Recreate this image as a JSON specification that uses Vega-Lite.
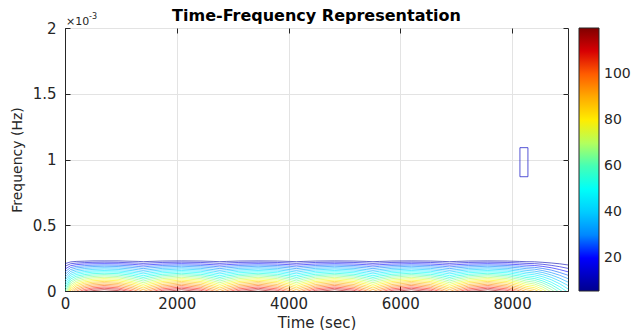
{
"$schema":"https://vega.github.io/schema/vega-lite/v6.json",
"width":503,"height":263,
"autosize":{"type":"none"},
"padding":{"left":65,"top":28,"right":64,"bottom":39},
"background":"white",
"config":{
"view":{"stroke":"#262626","strokeWidth":1},
"font":"DejaVu Sans",
"axis":{"labelFont":"DejaVu Sans","titleFont":"DejaVu Sans","labelColor":"#262626","titleColor":"#262626","domainColor":"#262626","tickColor":"#262626","gridColor":"#e3e3e3","gridOpacity":1,"labelFontSize":15,"titleFontSize":15,"titleFontWeight":"normal","tickSize":-5,"labelFlush":false,"labelOverlap":false}
},
"title":{"text":"Time-Frequency Representation","font":"DejaVu Sans","fontSize":16,"fontWeight":"bold","color":"#000000","offset":4,"dy":15,"anchor":"middle"},
"datasets":{
"contours":[
{"L":10,"t":0,"f":0.208},{"L":10,"t":100,"f":0.221},{"L":10,"t":200,"f":0.225},{"L":10,"t":350,"f":0.227},{"L":10,"t":500,"f":0.229},{"L":10,"t":700,"f":0.229},{"L":10,"t":950,"f":0.229},{"L":10,"t":1200,"f":0.226},{"L":10,"t":1320,"f":0.225},{"L":10,"t":1400,"f":0.223},
{"L":10,"t":1520,"f":0.225},{"L":10,"t":1740,"f":0.228},{"L":10,"t":2085,"f":0.229},{"L":10,"t":2430,"f":0.228},{"L":10,"t":2650,"f":0.225},{"L":10,"t":2770,"f":0.223},
{"L":10,"t":2890,"f":0.225},{"L":10,"t":3110,"f":0.228},{"L":10,"t":3455,"f":0.229},{"L":10,"t":3800,"f":0.228},{"L":10,"t":4020,"f":0.225},{"L":10,"t":4140,"f":0.223},
{"L":10,"t":4260,"f":0.225},{"L":10,"t":4480,"f":0.228},{"L":10,"t":4825,"f":0.229},{"L":10,"t":5170,"f":0.228},{"L":10,"t":5390,"f":0.225},{"L":10,"t":5510,"f":0.223},
{"L":10,"t":5630,"f":0.225},{"L":10,"t":5850,"f":0.228},{"L":10,"t":6195,"f":0.229},{"L":10,"t":6540,"f":0.228},{"L":10,"t":6760,"f":0.225},{"L":10,"t":6880,"f":0.223},
{"L":10,"t":7000,"f":0.225},{"L":10,"t":7220,"f":0.228},{"L":10,"t":7565,"f":0.229},{"L":10,"t":7910,"f":0.228},{"L":10,"t":8130,"f":0.225},{"L":10,"t":8250,"f":0.223},
{"L":10,"t":8400,"f":0.222},{"L":10,"t":8550,"f":0.218},{"L":10,"t":8700,"f":0.213},{"L":10,"t":8850,"f":0.207},{"L":10,"t":9000,"f":0.198},

{"L":15,"t":0,"f":0.188},{"L":15,"t":100,"f":0.207},{"L":15,"t":200,"f":0.212},{"L":15,"t":350,"f":0.216},{"L":15,"t":500,"f":0.218},{"L":15,"t":700,"f":0.219},{"L":15,"t":950,"f":0.218},{"L":15,"t":1200,"f":0.214},{"L":15,"t":1320,"f":0.212},{"L":15,"t":1400,"f":0.21},
{"L":15,"t":1520,"f":0.213},{"L":15,"t":1740,"f":0.217},{"L":15,"t":2085,"f":0.219},{"L":15,"t":2430,"f":0.217},{"L":15,"t":2650,"f":0.213},{"L":15,"t":2770,"f":0.21},
{"L":15,"t":2890,"f":0.213},{"L":15,"t":3110,"f":0.217},{"L":15,"t":3455,"f":0.219},{"L":15,"t":3800,"f":0.217},{"L":15,"t":4020,"f":0.213},{"L":15,"t":4140,"f":0.21},
{"L":15,"t":4260,"f":0.213},{"L":15,"t":4480,"f":0.217},{"L":15,"t":4825,"f":0.219},{"L":15,"t":5170,"f":0.217},{"L":15,"t":5390,"f":0.213},{"L":15,"t":5510,"f":0.21},
{"L":15,"t":5630,"f":0.213},{"L":15,"t":5850,"f":0.217},{"L":15,"t":6195,"f":0.219},{"L":15,"t":6540,"f":0.217},{"L":15,"t":6760,"f":0.213},{"L":15,"t":6880,"f":0.21},
{"L":15,"t":7000,"f":0.213},{"L":15,"t":7220,"f":0.217},{"L":15,"t":7565,"f":0.219},{"L":15,"t":7910,"f":0.217},{"L":15,"t":8130,"f":0.213},{"L":15,"t":8250,"f":0.21},
{"L":15,"t":8400,"f":0.208},{"L":15,"t":8550,"f":0.203},{"L":15,"t":8700,"f":0.195},{"L":15,"t":8850,"f":0.185},{"L":15,"t":9000,"f":0.172},

{"L":20,"t":0,"f":0.167},{"L":20,"t":100,"f":0.192},{"L":20,"t":200,"f":0.2},{"L":20,"t":350,"f":0.205},{"L":20,"t":500,"f":0.207},{"L":20,"t":700,"f":0.208},{"L":20,"t":950,"f":0.207},{"L":20,"t":1200,"f":0.203},{"L":20,"t":1320,"f":0.199},{"L":20,"t":1400,"f":0.197},
{"L":20,"t":1520,"f":0.2},{"L":20,"t":1740,"f":0.205},{"L":20,"t":2085,"f":0.208},{"L":20,"t":2430,"f":0.205},{"L":20,"t":2650,"f":0.2},{"L":20,"t":2770,"f":0.197},
{"L":20,"t":2890,"f":0.2},{"L":20,"t":3110,"f":0.205},{"L":20,"t":3455,"f":0.208},{"L":20,"t":3800,"f":0.205},{"L":20,"t":4020,"f":0.2},{"L":20,"t":4140,"f":0.197},
{"L":20,"t":4260,"f":0.2},{"L":20,"t":4480,"f":0.205},{"L":20,"t":4825,"f":0.208},{"L":20,"t":5170,"f":0.205},{"L":20,"t":5390,"f":0.2},{"L":20,"t":5510,"f":0.197},
{"L":20,"t":5630,"f":0.2},{"L":20,"t":5850,"f":0.205},{"L":20,"t":6195,"f":0.208},{"L":20,"t":6540,"f":0.205},{"L":20,"t":6760,"f":0.2},{"L":20,"t":6880,"f":0.197},
{"L":20,"t":7000,"f":0.2},{"L":20,"t":7220,"f":0.205},{"L":20,"t":7565,"f":0.208},{"L":20,"t":7910,"f":0.205},{"L":20,"t":8130,"f":0.2},{"L":20,"t":8250,"f":0.197},
{"L":20,"t":8400,"f":0.194},{"L":20,"t":8550,"f":0.187},{"L":20,"t":8700,"f":0.177},{"L":20,"t":8850,"f":0.163},{"L":20,"t":9000,"f":0.146},

{"L":25,"t":0,"f":0.146},{"L":25,"t":100,"f":0.178},{"L":25,"t":200,"f":0.187},{"L":25,"t":350,"f":0.193},{"L":25,"t":500,"f":0.196},{"L":25,"t":700,"f":0.198},{"L":25,"t":950,"f":0.196},{"L":25,"t":1200,"f":0.191},{"L":25,"t":1320,"f":0.186},{"L":25,"t":1400,"f":0.183},
{"L":25,"t":1520,"f":0.188},{"L":25,"t":1740,"f":0.194},{"L":25,"t":2085,"f":0.198},{"L":25,"t":2430,"f":0.194},{"L":25,"t":2650,"f":0.188},{"L":25,"t":2770,"f":0.183},
{"L":25,"t":2890,"f":0.188},{"L":25,"t":3110,"f":0.194},{"L":25,"t":3455,"f":0.198},{"L":25,"t":3800,"f":0.194},{"L":25,"t":4020,"f":0.188},{"L":25,"t":4140,"f":0.183},
{"L":25,"t":4260,"f":0.188},{"L":25,"t":4480,"f":0.194},{"L":25,"t":4825,"f":0.198},{"L":25,"t":5170,"f":0.194},{"L":25,"t":5390,"f":0.188},{"L":25,"t":5510,"f":0.183},
{"L":25,"t":5630,"f":0.188},{"L":25,"t":5850,"f":0.194},{"L":25,"t":6195,"f":0.198},{"L":25,"t":6540,"f":0.194},{"L":25,"t":6760,"f":0.188},{"L":25,"t":6880,"f":0.183},
{"L":25,"t":7000,"f":0.188},{"L":25,"t":7220,"f":0.194},{"L":25,"t":7565,"f":0.198},{"L":25,"t":7910,"f":0.194},{"L":25,"t":8130,"f":0.188},{"L":25,"t":8250,"f":0.183},
{"L":25,"t":8400,"f":0.18},{"L":25,"t":8550,"f":0.171},{"L":25,"t":8700,"f":0.159},{"L":25,"t":8850,"f":0.141},{"L":25,"t":9000,"f":0.12},

{"L":30,"t":0,"f":0.125},{"L":30,"t":100,"f":0.163},{"L":30,"t":200,"f":0.175},{"L":30,"t":350,"f":0.182},{"L":30,"t":500,"f":0.186},{"L":30,"t":700,"f":0.188},{"L":30,"t":950,"f":0.186},{"L":30,"t":1200,"f":0.179},{"L":30,"t":1320,"f":0.174},{"L":30,"t":1400,"f":0.17},
{"L":30,"t":1520,"f":0.176},{"L":30,"t":1740,"f":0.183},{"L":30,"t":2085,"f":0.188},{"L":30,"t":2430,"f":0.183},{"L":30,"t":2650,"f":0.176},{"L":30,"t":2770,"f":0.17},
{"L":30,"t":2890,"f":0.176},{"L":30,"t":3110,"f":0.183},{"L":30,"t":3455,"f":0.188},{"L":30,"t":3800,"f":0.183},{"L":30,"t":4020,"f":0.176},{"L":30,"t":4140,"f":0.17},
{"L":30,"t":4260,"f":0.176},{"L":30,"t":4480,"f":0.183},{"L":30,"t":4825,"f":0.188},{"L":30,"t":5170,"f":0.183},{"L":30,"t":5390,"f":0.176},{"L":30,"t":5510,"f":0.17},
{"L":30,"t":5630,"f":0.176},{"L":30,"t":5850,"f":0.183},{"L":30,"t":6195,"f":0.188},{"L":30,"t":6540,"f":0.183},{"L":30,"t":6760,"f":0.176},{"L":30,"t":6880,"f":0.17},
{"L":30,"t":7000,"f":0.176},{"L":30,"t":7220,"f":0.183},{"L":30,"t":7565,"f":0.188},{"L":30,"t":7910,"f":0.183},{"L":30,"t":8130,"f":0.176},{"L":30,"t":8250,"f":0.17},
{"L":30,"t":8400,"f":0.166},{"L":30,"t":8550,"f":0.155},{"L":30,"t":8700,"f":0.14},{"L":30,"t":8850,"f":0.12},{"L":30,"t":9000,"f":0.094},

{"L":35,"t":0,"f":0.104},{"L":35,"t":100,"f":0.149},{"L":35,"t":200,"f":0.162},{"L":35,"t":350,"f":0.171},{"L":35,"t":500,"f":0.175},{"L":35,"t":700,"f":0.177},{"L":35,"t":950,"f":0.175},{"L":35,"t":1200,"f":0.167},{"L":35,"t":1320,"f":0.161},{"L":35,"t":1400,"f":0.157},
{"L":35,"t":1520,"f":0.163},{"L":35,"t":1740,"f":0.172},{"L":35,"t":2085,"f":0.177},{"L":35,"t":2430,"f":0.172},{"L":35,"t":2650,"f":0.163},{"L":35,"t":2770,"f":0.157},
{"L":35,"t":2890,"f":0.163},{"L":35,"t":3110,"f":0.172},{"L":35,"t":3455,"f":0.177},{"L":35,"t":3800,"f":0.172},{"L":35,"t":4020,"f":0.163},{"L":35,"t":4140,"f":0.157},
{"L":35,"t":4260,"f":0.163},{"L":35,"t":4480,"f":0.172},{"L":35,"t":4825,"f":0.177},{"L":35,"t":5170,"f":0.172},{"L":35,"t":5390,"f":0.163},{"L":35,"t":5510,"f":0.157},
{"L":35,"t":5630,"f":0.163},{"L":35,"t":5850,"f":0.172},{"L":35,"t":6195,"f":0.177},{"L":35,"t":6540,"f":0.172},{"L":35,"t":6760,"f":0.163},{"L":35,"t":6880,"f":0.157},
{"L":35,"t":7000,"f":0.163},{"L":35,"t":7220,"f":0.172},{"L":35,"t":7565,"f":0.177},{"L":35,"t":7910,"f":0.172},{"L":35,"t":8130,"f":0.163},{"L":35,"t":8250,"f":0.157},
{"L":35,"t":8400,"f":0.151},{"L":35,"t":8550,"f":0.14},{"L":35,"t":8700,"f":0.122},{"L":35,"t":8850,"f":0.098},{"L":35,"t":9000,"f":0.068},

{"L":40,"t":0,"f":0.083},{"L":40,"t":100,"f":0.134},{"L":40,"t":200,"f":0.15},{"L":40,"t":350,"f":0.159},{"L":40,"t":500,"f":0.164},{"L":40,"t":700,"f":0.167},{"L":40,"t":950,"f":0.164},{"L":40,"t":1200,"f":0.155},{"L":40,"t":1320,"f":0.148},{"L":40,"t":1400,"f":0.143},
{"L":40,"t":1520,"f":0.151},{"L":40,"t":1740,"f":0.161},{"L":40,"t":2085,"f":0.167},{"L":40,"t":2430,"f":0.161},{"L":40,"t":2650,"f":0.151},{"L":40,"t":2770,"f":0.143},
{"L":40,"t":2890,"f":0.151},{"L":40,"t":3110,"f":0.161},{"L":40,"t":3455,"f":0.167},{"L":40,"t":3800,"f":0.161},{"L":40,"t":4020,"f":0.151},{"L":40,"t":4140,"f":0.143},
{"L":40,"t":4260,"f":0.151},{"L":40,"t":4480,"f":0.161},{"L":40,"t":4825,"f":0.167},{"L":40,"t":5170,"f":0.161},{"L":40,"t":5390,"f":0.151},{"L":40,"t":5510,"f":0.143},
{"L":40,"t":5630,"f":0.151},{"L":40,"t":5850,"f":0.161},{"L":40,"t":6195,"f":0.167},{"L":40,"t":6540,"f":0.161},{"L":40,"t":6760,"f":0.151},{"L":40,"t":6880,"f":0.143},
{"L":40,"t":7000,"f":0.151},{"L":40,"t":7220,"f":0.161},{"L":40,"t":7565,"f":0.167},{"L":40,"t":7910,"f":0.161},{"L":40,"t":8130,"f":0.151},{"L":40,"t":8250,"f":0.143},
{"L":40,"t":8400,"f":0.137},{"L":40,"t":8550,"f":0.124},{"L":40,"t":8700,"f":0.104},{"L":40,"t":8850,"f":0.076},{"L":40,"t":9000,"f":0.042},

{"L":45,"t":0,"f":0.063},{"L":45,"t":100,"f":0.12},{"L":45,"t":200,"f":0.137},{"L":45,"t":350,"f":0.148},{"L":45,"t":500,"f":0.153},{"L":45,"t":700,"f":0.156},{"L":45,"t":950,"f":0.153},{"L":45,"t":1200,"f":0.143},{"L":45,"t":1320,"f":0.136},{"L":45,"t":1400,"f":0.13},
{"L":45,"t":1520,"f":0.138},{"L":45,"t":1740,"f":0.15},{"L":45,"t":2085,"f":0.156},{"L":45,"t":2430,"f":0.15},{"L":45,"t":2650,"f":0.138},{"L":45,"t":2770,"f":0.13},
{"L":45,"t":2890,"f":0.138},{"L":45,"t":3110,"f":0.15},{"L":45,"t":3455,"f":0.156},{"L":45,"t":3800,"f":0.15},{"L":45,"t":4020,"f":0.138},{"L":45,"t":4140,"f":0.13},
{"L":45,"t":4260,"f":0.138},{"L":45,"t":4480,"f":0.15},{"L":45,"t":4825,"f":0.156},{"L":45,"t":5170,"f":0.15},{"L":45,"t":5390,"f":0.138},{"L":45,"t":5510,"f":0.13},
{"L":45,"t":5630,"f":0.138},{"L":45,"t":5850,"f":0.15},{"L":45,"t":6195,"f":0.156},{"L":45,"t":6540,"f":0.15},{"L":45,"t":6760,"f":0.138},{"L":45,"t":6880,"f":0.13},
{"L":45,"t":7000,"f":0.138},{"L":45,"t":7220,"f":0.15},{"L":45,"t":7565,"f":0.156},{"L":45,"t":7910,"f":0.15},{"L":45,"t":8130,"f":0.138},{"L":45,"t":8250,"f":0.13},
{"L":45,"t":8400,"f":0.123},{"L":45,"t":8550,"f":0.108},{"L":45,"t":8700,"f":0.086},{"L":45,"t":8850,"f":0.055},{"L":45,"t":9000,"f":0.016},

{"L":50,"t":0,"f":0.042},{"L":50,"t":100,"f":0.105},{"L":50,"t":200,"f":0.125},{"L":50,"t":350,"f":0.137},{"L":50,"t":500,"f":0.143},{"L":50,"t":700,"f":0.146},{"L":50,"t":950,"f":0.143},{"L":50,"t":1200,"f":0.132},{"L":50,"t":1320,"f":0.123},{"L":50,"t":1400,"f":0.116},
{"L":50,"t":1520,"f":0.126},{"L":50,"t":1740,"f":0.139},{"L":50,"t":2085,"f":0.146},{"L":50,"t":2430,"f":0.139},{"L":50,"t":2650,"f":0.126},{"L":50,"t":2770,"f":0.116},
{"L":50,"t":2890,"f":0.126},{"L":50,"t":3110,"f":0.139},{"L":50,"t":3455,"f":0.146},{"L":50,"t":3800,"f":0.139},{"L":50,"t":4020,"f":0.126},{"L":50,"t":4140,"f":0.116},
{"L":50,"t":4260,"f":0.126},{"L":50,"t":4480,"f":0.139},{"L":50,"t":4825,"f":0.146},{"L":50,"t":5170,"f":0.139},{"L":50,"t":5390,"f":0.126},{"L":50,"t":5510,"f":0.116},
{"L":50,"t":5630,"f":0.126},{"L":50,"t":5850,"f":0.139},{"L":50,"t":6195,"f":0.146},{"L":50,"t":6540,"f":0.139},{"L":50,"t":6760,"f":0.126},{"L":50,"t":6880,"f":0.116},
{"L":50,"t":7000,"f":0.126},{"L":50,"t":7220,"f":0.139},{"L":50,"t":7565,"f":0.146},{"L":50,"t":7910,"f":0.139},{"L":50,"t":8130,"f":0.126},{"L":50,"t":8250,"f":0.116},
{"L":50,"t":8400,"f":0.109},{"L":50,"t":8550,"f":0.092},{"L":50,"t":8700,"f":0.067},{"L":50,"t":8850,"f":0.033},{"L":50,"t":9000,"f":-0.01},

{"L":55,"t":0,"f":0.021},{"L":55,"t":100,"f":0.091},{"L":55,"t":200,"f":0.112},{"L":55,"t":350,"f":0.125},{"L":55,"t":500,"f":0.132},{"L":55,"t":700,"f":0.135},{"L":55,"t":950,"f":0.132},{"L":55,"t":1200,"f":0.12},{"L":55,"t":1320,"f":0.11},{"L":55,"t":1400,"f":0.103},
{"L":55,"t":1520,"f":0.114},{"L":55,"t":1740,"f":0.127},{"L":55,"t":2085,"f":0.135},{"L":55,"t":2430,"f":0.127},{"L":55,"t":2650,"f":0.114},{"L":55,"t":2770,"f":0.103},
{"L":55,"t":2890,"f":0.114},{"L":55,"t":3110,"f":0.127},{"L":55,"t":3455,"f":0.135},{"L":55,"t":3800,"f":0.127},{"L":55,"t":4020,"f":0.114},{"L":55,"t":4140,"f":0.103},
{"L":55,"t":4260,"f":0.114},{"L":55,"t":4480,"f":0.127},{"L":55,"t":4825,"f":0.135},{"L":55,"t":5170,"f":0.127},{"L":55,"t":5390,"f":0.114},{"L":55,"t":5510,"f":0.103},
{"L":55,"t":5630,"f":0.114},{"L":55,"t":5850,"f":0.127},{"L":55,"t":6195,"f":0.135},{"L":55,"t":6540,"f":0.127},{"L":55,"t":6760,"f":0.114},{"L":55,"t":6880,"f":0.103},
{"L":55,"t":7000,"f":0.114},{"L":55,"t":7220,"f":0.127},{"L":55,"t":7565,"f":0.135},{"L":55,"t":7910,"f":0.127},{"L":55,"t":8130,"f":0.114},{"L":55,"t":8250,"f":0.103},
{"L":55,"t":8400,"f":0.095},{"L":55,"t":8550,"f":0.076},{"L":55,"t":8700,"f":0.049},{"L":55,"t":8850,"f":0.011},{"L":55,"t":9000,"f":-0.036},

{"L":60,"t":0,"f":0.0},{"L":60,"t":100,"f":0.076},{"L":60,"t":200,"f":0.099},{"L":60,"t":350,"f":0.114},{"L":60,"t":500,"f":0.121},{"L":60,"t":700,"f":0.125},{"L":60,"t":950,"f":0.121},{"L":60,"t":1200,"f":0.108},{"L":60,"t":1320,"f":0.098},{"L":60,"t":1400,"f":0.09},
{"L":60,"t":1520,"f":0.101},{"L":60,"t":1740,"f":0.116},{"L":60,"t":2085,"f":0.125},{"L":60,"t":2430,"f":0.116},{"L":60,"t":2650,"f":0.101},{"L":60,"t":2770,"f":0.09},
{"L":60,"t":2890,"f":0.101},{"L":60,"t":3110,"f":0.116},{"L":60,"t":3455,"f":0.125},{"L":60,"t":3800,"f":0.116},{"L":60,"t":4020,"f":0.101},{"L":60,"t":4140,"f":0.09},
{"L":60,"t":4260,"f":0.101},{"L":60,"t":4480,"f":0.116},{"L":60,"t":4825,"f":0.125},{"L":60,"t":5170,"f":0.116},{"L":60,"t":5390,"f":0.101},{"L":60,"t":5510,"f":0.09},
{"L":60,"t":5630,"f":0.101},{"L":60,"t":5850,"f":0.116},{"L":60,"t":6195,"f":0.125},{"L":60,"t":6540,"f":0.116},{"L":60,"t":6760,"f":0.101},{"L":60,"t":6880,"f":0.09},
{"L":60,"t":7000,"f":0.101},{"L":60,"t":7220,"f":0.116},{"L":60,"t":7565,"f":0.125},{"L":60,"t":7910,"f":0.116},{"L":60,"t":8130,"f":0.101},{"L":60,"t":8250,"f":0.09},
{"L":60,"t":8400,"f":0.081},{"L":60,"t":8550,"f":0.061},{"L":60,"t":8700,"f":0.031},{"L":60,"t":8850,"f":-0.01},

{"L":65,"t":0,"f":-0.021},{"L":65,"t":100,"f":0.062},{"L":65,"t":200,"f":0.087},{"L":65,"t":350,"f":0.103},{"L":65,"t":500,"f":0.11},{"L":65,"t":700,"f":0.115},{"L":65,"t":950,"f":0.11},{"L":65,"t":1200,"f":0.096},{"L":65,"t":1320,"f":0.085},{"L":65,"t":1400,"f":0.076},
{"L":65,"t":1520,"f":0.089},{"L":65,"t":1740,"f":0.105},{"L":65,"t":2085,"f":0.115},{"L":65,"t":2430,"f":0.105},{"L":65,"t":2650,"f":0.089},{"L":65,"t":2770,"f":0.076},
{"L":65,"t":2890,"f":0.089},{"L":65,"t":3110,"f":0.105},{"L":65,"t":3455,"f":0.115},{"L":65,"t":3800,"f":0.105},{"L":65,"t":4020,"f":0.089},{"L":65,"t":4140,"f":0.076},
{"L":65,"t":4260,"f":0.089},{"L":65,"t":4480,"f":0.105},{"L":65,"t":4825,"f":0.115},{"L":65,"t":5170,"f":0.105},{"L":65,"t":5390,"f":0.089},{"L":65,"t":5510,"f":0.076},
{"L":65,"t":5630,"f":0.089},{"L":65,"t":5850,"f":0.105},{"L":65,"t":6195,"f":0.115},{"L":65,"t":6540,"f":0.105},{"L":65,"t":6760,"f":0.089},{"L":65,"t":6880,"f":0.076},
{"L":65,"t":7000,"f":0.089},{"L":65,"t":7220,"f":0.105},{"L":65,"t":7565,"f":0.115},{"L":65,"t":7910,"f":0.105},{"L":65,"t":8130,"f":0.089},{"L":65,"t":8250,"f":0.076},
{"L":65,"t":8400,"f":0.067},{"L":65,"t":8550,"f":0.045},{"L":65,"t":8700,"f":0.012},{"L":65,"t":8850,"f":-0.032},

{"L":70,"t":0,"f":-0.042},{"L":70,"t":100,"f":0.047},{"L":70,"t":200,"f":0.074},{"L":70,"t":350,"f":0.091},{"L":70,"t":500,"f":0.1},{"L":70,"t":700,"f":0.104},{"L":70,"t":950,"f":0.1},{"L":70,"t":1200,"f":0.084},{"L":70,"t":1320,"f":0.072},{"L":70,"t":1400,"f":0.063},
{"L":70,"t":1520,"f":0.076},{"L":70,"t":1740,"f":0.094},{"L":70,"t":2085,"f":0.104},{"L":70,"t":2430,"f":0.094},{"L":70,"t":2650,"f":0.076},{"L":70,"t":2770,"f":0.063},
{"L":70,"t":2890,"f":0.076},{"L":70,"t":3110,"f":0.094},{"L":70,"t":3455,"f":0.104},{"L":70,"t":3800,"f":0.094},{"L":70,"t":4020,"f":0.076},{"L":70,"t":4140,"f":0.063},
{"L":70,"t":4260,"f":0.076},{"L":70,"t":4480,"f":0.094},{"L":70,"t":4825,"f":0.104},{"L":70,"t":5170,"f":0.094},{"L":70,"t":5390,"f":0.076},{"L":70,"t":5510,"f":0.063},
{"L":70,"t":5630,"f":0.076},{"L":70,"t":5850,"f":0.094},{"L":70,"t":6195,"f":0.104},{"L":70,"t":6540,"f":0.094},{"L":70,"t":6760,"f":0.076},{"L":70,"t":6880,"f":0.063},
{"L":70,"t":7000,"f":0.076},{"L":70,"t":7220,"f":0.094},{"L":70,"t":7565,"f":0.104},{"L":70,"t":7910,"f":0.094},{"L":70,"t":8130,"f":0.076},{"L":70,"t":8250,"f":0.063},
{"L":70,"t":8400,"f":0.053},{"L":70,"t":8550,"f":0.029},{"L":70,"t":8700,"f":-0.006},

{"L":75,"t":0,"f":-0.063},{"L":75,"t":100,"f":0.033},{"L":75,"t":200,"f":0.062},{"L":75,"t":350,"f":0.08},{"L":75,"t":500,"f":0.089},{"L":75,"t":700,"f":0.094},{"L":75,"t":950,"f":0.089},{"L":75,"t":1200,"f":0.072},{"L":75,"t":1320,"f":0.059},{"L":75,"t":1400,"f":0.05},
{"L":75,"t":1520,"f":0.064},{"L":75,"t":1740,"f":0.083},{"L":75,"t":2085,"f":0.094},{"L":75,"t":2430,"f":0.083},{"L":75,"t":2650,"f":0.064},{"L":75,"t":2770,"f":0.05},
{"L":75,"t":2890,"f":0.064},{"L":75,"t":3110,"f":0.083},{"L":75,"t":3455,"f":0.094},{"L":75,"t":3800,"f":0.083},{"L":75,"t":4020,"f":0.064},{"L":75,"t":4140,"f":0.05},
{"L":75,"t":4260,"f":0.064},{"L":75,"t":4480,"f":0.083},{"L":75,"t":4825,"f":0.094},{"L":75,"t":5170,"f":0.083},{"L":75,"t":5390,"f":0.064},{"L":75,"t":5510,"f":0.05},
{"L":75,"t":5630,"f":0.064},{"L":75,"t":5850,"f":0.083},{"L":75,"t":6195,"f":0.094},{"L":75,"t":6540,"f":0.083},{"L":75,"t":6760,"f":0.064},{"L":75,"t":6880,"f":0.05},
{"L":75,"t":7000,"f":0.064},{"L":75,"t":7220,"f":0.083},{"L":75,"t":7565,"f":0.094},{"L":75,"t":7910,"f":0.083},{"L":75,"t":8130,"f":0.064},{"L":75,"t":8250,"f":0.05},
{"L":75,"t":8400,"f":0.039},{"L":75,"t":8550,"f":0.013},{"L":75,"t":8700,"f":-0.024},

{"L":80,"t":0,"f":-0.083},{"L":80,"t":100,"f":0.019},{"L":80,"t":200,"f":0.049},{"L":80,"t":350,"f":0.069},{"L":80,"t":500,"f":0.078},{"L":80,"t":700,"f":0.083},{"L":80,"t":950,"f":0.078},{"L":80,"t":1200,"f":0.061},{"L":80,"t":1320,"f":0.047},{"L":80,"t":1400,"f":0.036},
{"L":80,"t":1520,"f":0.052},{"L":80,"t":1740,"f":0.072},{"L":80,"t":2085,"f":0.083},{"L":80,"t":2430,"f":0.072},{"L":80,"t":2650,"f":0.052},{"L":80,"t":2770,"f":0.036},
{"L":80,"t":2890,"f":0.052},{"L":80,"t":3110,"f":0.072},{"L":80,"t":3455,"f":0.083},{"L":80,"t":3800,"f":0.072},{"L":80,"t":4020,"f":0.052},{"L":80,"t":4140,"f":0.036},
{"L":80,"t":4260,"f":0.052},{"L":80,"t":4480,"f":0.072},{"L":80,"t":4825,"f":0.083},{"L":80,"t":5170,"f":0.072},{"L":80,"t":5390,"f":0.052},{"L":80,"t":5510,"f":0.036},
{"L":80,"t":5630,"f":0.052},{"L":80,"t":5850,"f":0.072},{"L":80,"t":6195,"f":0.083},{"L":80,"t":6540,"f":0.072},{"L":80,"t":6760,"f":0.052},{"L":80,"t":6880,"f":0.036},
{"L":80,"t":7000,"f":0.052},{"L":80,"t":7220,"f":0.072},{"L":80,"t":7565,"f":0.083},{"L":80,"t":7910,"f":0.072},{"L":80,"t":8130,"f":0.052},{"L":80,"t":8250,"f":0.036},
{"L":80,"t":8400,"f":0.025},{"L":80,"t":8550,"f":-0.003},

{"L":85,"t":0,"f":-0.104},{"L":85,"t":100,"f":0.004},{"L":85,"t":200,"f":0.037},{"L":85,"t":350,"f":0.058},{"L":85,"t":500,"f":0.067},{"L":85,"t":700,"f":0.073},{"L":85,"t":950,"f":0.067},{"L":85,"t":1200,"f":0.049},{"L":85,"t":1320,"f":0.034},{"L":85,"t":1400,"f":0.023},
{"L":85,"t":1520,"f":0.039},{"L":85,"t":1740,"f":0.061},{"L":85,"t":2085,"f":0.073},{"L":85,"t":2430,"f":0.061},{"L":85,"t":2650,"f":0.039},{"L":85,"t":2770,"f":0.023},
{"L":85,"t":2890,"f":0.039},{"L":85,"t":3110,"f":0.061},{"L":85,"t":3455,"f":0.073},{"L":85,"t":3800,"f":0.061},{"L":85,"t":4020,"f":0.039},{"L":85,"t":4140,"f":0.023},
{"L":85,"t":4260,"f":0.039},{"L":85,"t":4480,"f":0.061},{"L":85,"t":4825,"f":0.073},{"L":85,"t":5170,"f":0.061},{"L":85,"t":5390,"f":0.039},{"L":85,"t":5510,"f":0.023},
{"L":85,"t":5630,"f":0.039},{"L":85,"t":5850,"f":0.061},{"L":85,"t":6195,"f":0.073},{"L":85,"t":6540,"f":0.061},{"L":85,"t":6760,"f":0.039},{"L":85,"t":6880,"f":0.023},
{"L":85,"t":7000,"f":0.039},{"L":85,"t":7220,"f":0.061},{"L":85,"t":7565,"f":0.073},{"L":85,"t":7910,"f":0.061},{"L":85,"t":8130,"f":0.039},{"L":85,"t":8250,"f":0.023},
{"L":85,"t":8400,"f":0.011},{"L":85,"t":8550,"f":-0.018},

{"L":90,"t":100,"f":-0.01},{"L":90,"t":200,"f":0.024},{"L":90,"t":350,"f":0.046},{"L":90,"t":500,"f":0.057},{"L":90,"t":700,"f":0.063},{"L":90,"t":950,"f":0.057},{"L":90,"t":1200,"f":0.037},{"L":90,"t":1320,"f":0.021},{"L":90,"t":1400,"f":0.01},
{"L":90,"t":1520,"f":0.027},{"L":90,"t":1740,"f":0.049},{"L":90,"t":2085,"f":0.063},{"L":90,"t":2430,"f":0.049},{"L":90,"t":2650,"f":0.027},{"L":90,"t":2770,"f":0.01},
{"L":90,"t":2890,"f":0.027},{"L":90,"t":3110,"f":0.049},{"L":90,"t":3455,"f":0.063},{"L":90,"t":3800,"f":0.049},{"L":90,"t":4020,"f":0.027},{"L":90,"t":4140,"f":0.01},
{"L":90,"t":4260,"f":0.027},{"L":90,"t":4480,"f":0.049},{"L":90,"t":4825,"f":0.063},{"L":90,"t":5170,"f":0.049},{"L":90,"t":5390,"f":0.027},{"L":90,"t":5510,"f":0.01},
{"L":90,"t":5630,"f":0.027},{"L":90,"t":5850,"f":0.049},{"L":90,"t":6195,"f":0.063},{"L":90,"t":6540,"f":0.049},{"L":90,"t":6760,"f":0.027},{"L":90,"t":6880,"f":0.01},
{"L":90,"t":7000,"f":0.027},{"L":90,"t":7220,"f":0.049},{"L":90,"t":7565,"f":0.063},{"L":90,"t":7910,"f":0.049},{"L":90,"t":8130,"f":0.027},{"L":90,"t":8250,"f":0.01},
{"L":90,"t":8400,"f":-0.003},

{"L":95,"t":100,"f":-0.025},{"L":95,"t":200,"f":0.012},{"L":95,"t":350,"f":0.035},{"L":95,"t":500,"f":0.046},{"L":95,"t":700,"f":0.052},{"L":95,"t":950,"f":0.046},{"L":95,"t":1200,"f":0.025},{"L":95,"t":1320,"f":0.009},{"L":95,"t":1400,"f":-0.004},
{"L":95,"t":1520,"f":0.014},{"L":95,"t":1740,"f":0.038},{"L":95,"t":2085,"f":0.052},{"L":95,"t":2430,"f":0.038},{"L":95,"t":2650,"f":0.014},{"L":95,"t":2770,"f":-0.004},
{"L":95,"t":2890,"f":0.014},{"L":95,"t":3110,"f":0.038},{"L":95,"t":3455,"f":0.052},{"L":95,"t":3800,"f":0.038},{"L":95,"t":4020,"f":0.014},{"L":95,"t":4140,"f":-0.004},
{"L":95,"t":4260,"f":0.014},{"L":95,"t":4480,"f":0.038},{"L":95,"t":4825,"f":0.052},{"L":95,"t":5170,"f":0.038},{"L":95,"t":5390,"f":0.014},{"L":95,"t":5510,"f":-0.004},
{"L":95,"t":5630,"f":0.014},{"L":95,"t":5850,"f":0.038},{"L":95,"t":6195,"f":0.052},{"L":95,"t":6540,"f":0.038},{"L":95,"t":6760,"f":0.014},{"L":95,"t":6880,"f":-0.004},
{"L":95,"t":7000,"f":0.014},{"L":95,"t":7220,"f":0.038},{"L":95,"t":7565,"f":0.052},{"L":95,"t":7910,"f":0.038},{"L":95,"t":8130,"f":0.014},{"L":95,"t":8250,"f":-0.004},

{"L":100,"t":200,"f":-0.001},{"L":100,"t":350,"f":0.024},{"L":100,"t":500,"f":0.035},{"L":100,"t":700,"f":0.042},{"L":100,"t":950,"f":0.035},{"L":100,"t":1200,"f":0.013},{"L":100,"t":1320,"f":-0.004},{"L":100,"t":1400,"f":-0.017},
{"L":100,"t":1520,"f":0.002},{"L":100,"t":1740,"f":0.027},{"L":100,"t":2085,"f":0.042},{"L":100,"t":2430,"f":0.027},{"L":100,"t":2650,"f":0.002},{"L":100,"t":2770,"f":-0.017},
{"L":100,"t":2890,"f":0.002},{"L":100,"t":3110,"f":0.027},{"L":100,"t":3455,"f":0.042},{"L":100,"t":3800,"f":0.027},{"L":100,"t":4020,"f":0.002},{"L":100,"t":4140,"f":-0.017},
{"L":100,"t":4260,"f":0.002},{"L":100,"t":4480,"f":0.027},{"L":100,"t":4825,"f":0.042},{"L":100,"t":5170,"f":0.027},{"L":100,"t":5390,"f":0.002},{"L":100,"t":5510,"f":-0.017},
{"L":100,"t":5630,"f":0.002},{"L":100,"t":5850,"f":0.027},{"L":100,"t":6195,"f":0.042},{"L":100,"t":6540,"f":0.027},{"L":100,"t":6760,"f":0.002},{"L":100,"t":6880,"f":-0.017},
{"L":100,"t":7000,"f":0.002},{"L":100,"t":7220,"f":0.027},{"L":100,"t":7565,"f":0.042},{"L":100,"t":7910,"f":0.027},{"L":100,"t":8130,"f":0.002},{"L":100,"t":8250,"f":-0.017},

{"L":105,"t":200,"f":-0.014},{"L":105,"t":350,"f":0.012},{"L":105,"t":500,"f":0.024},{"L":105,"t":700,"f":0.031},{"L":105,"t":950,"f":0.024},{"L":105,"t":1200,"f":0.001},{"L":105,"t":1320,"f":-0.017},{"L":105,"t":1400,"f":-0.03},
{"L":105,"t":1520,"f":-0.01},{"L":105,"t":1740,"f":0.016},{"L":105,"t":2085,"f":0.031},{"L":105,"t":2430,"f":0.016},{"L":105,"t":2650,"f":-0.01},{"L":105,"t":2770,"f":-0.03},
{"L":105,"t":2890,"f":-0.01},{"L":105,"t":3110,"f":0.016},{"L":105,"t":3455,"f":0.031},{"L":105,"t":3800,"f":0.016},{"L":105,"t":4020,"f":-0.01},{"L":105,"t":4140,"f":-0.03},
{"L":105,"t":4260,"f":-0.01},{"L":105,"t":4480,"f":0.016},{"L":105,"t":4825,"f":0.031},{"L":105,"t":5170,"f":0.016},{"L":105,"t":5390,"f":-0.01},{"L":105,"t":5510,"f":-0.03},
{"L":105,"t":5630,"f":-0.01},{"L":105,"t":5850,"f":0.016},{"L":105,"t":6195,"f":0.031},{"L":105,"t":6540,"f":0.016},{"L":105,"t":6760,"f":-0.01},{"L":105,"t":6880,"f":-0.03},
{"L":105,"t":7000,"f":-0.01},{"L":105,"t":7220,"f":0.016},{"L":105,"t":7565,"f":0.031},{"L":105,"t":7910,"f":0.016},{"L":105,"t":8130,"f":-0.01},

{"L":110,"t":200,"f":-0.026},{"L":110,"t":350,"f":0.001},{"L":110,"t":500,"f":0.014},{"L":110,"t":700,"f":0.021},{"L":110,"t":950,"f":0.014},{"L":110,"t":1200,"f":-0.01},{"L":110,"t":1320,"f":-0.029},{"L":110,"t":1400,"f":-0.044},
{"L":110,"t":1520,"f":-0.023},{"L":110,"t":1740,"f":0.005},{"L":110,"t":2085,"f":0.021},{"L":110,"t":2430,"f":0.005},{"L":110,"t":2650,"f":-0.023},{"L":110,"t":2770,"f":-0.044},
{"L":110,"t":2890,"f":-0.023},{"L":110,"t":3110,"f":0.005},{"L":110,"t":3455,"f":0.021},{"L":110,"t":3800,"f":0.005},{"L":110,"t":4020,"f":-0.023},{"L":110,"t":4140,"f":-0.044},
{"L":110,"t":4260,"f":-0.023},{"L":110,"t":4480,"f":0.005},{"L":110,"t":4825,"f":0.021},{"L":110,"t":5170,"f":0.005},{"L":110,"t":5390,"f":-0.023},{"L":110,"t":5510,"f":-0.044},
{"L":110,"t":5630,"f":-0.023},{"L":110,"t":5850,"f":0.005},{"L":110,"t":6195,"f":0.021},{"L":110,"t":6540,"f":0.005},{"L":110,"t":6760,"f":-0.023},{"L":110,"t":6880,"f":-0.044},
{"L":110,"t":7000,"f":-0.023},{"L":110,"t":7220,"f":0.005},{"L":110,"t":7565,"f":0.021},{"L":110,"t":7910,"f":0.005},{"L":110,"t":8130,"f":-0.023},

{"L":115,"t":350,"f":-0.01},{"L":115,"t":500,"f":0.003},{"L":115,"t":700,"f":0.01},{"L":115,"t":950,"f":0.003},{"L":115,"t":1200,"f":-0.022},{"L":115,"t":1320,"f":-0.042},{"L":115,"t":1400,"f":-0.057},
{"L":115,"t":1520,"f":-0.035},{"L":115,"t":1740,"f":-0.006},{"L":115,"t":2085,"f":0.01},{"L":115,"t":2430,"f":-0.006},{"L":115,"t":2650,"f":-0.035},{"L":115,"t":2770,"f":-0.057},
{"L":115,"t":2890,"f":-0.035},{"L":115,"t":3110,"f":-0.006},{"L":115,"t":3455,"f":0.01},{"L":115,"t":3800,"f":-0.006},{"L":115,"t":4020,"f":-0.035},{"L":115,"t":4140,"f":-0.057},
{"L":115,"t":4260,"f":-0.035},{"L":115,"t":4480,"f":-0.006},{"L":115,"t":4825,"f":0.01},{"L":115,"t":5170,"f":-0.006},{"L":115,"t":5390,"f":-0.035},{"L":115,"t":5510,"f":-0.057},
{"L":115,"t":5630,"f":-0.035},{"L":115,"t":5850,"f":-0.006},{"L":115,"t":6195,"f":0.01},{"L":115,"t":6540,"f":-0.006},{"L":115,"t":6760,"f":-0.035},{"L":115,"t":6880,"f":-0.057},
{"L":115,"t":7000,"f":-0.035},{"L":115,"t":7220,"f":-0.006},{"L":115,"t":7565,"f":0.01},{"L":115,"t":7910,"f":-0.006}
],
"blob":[
{"i":1,"t":8140,"f":0.869},{"i":2,"t":8283,"f":0.869},{"i":3,"t":8283,"f":1.09},{"i":4,"t":8140,"f":1.09},{"i":5,"t":8140,"f":0.869}
],
"corner":[{"t":0,"f":2}]
},
"layer":[
{"data":{"name":"contours"},
"mark":{"type":"line","clip":true,"strokeWidth":0.6},
"encoding":{
"x":{"field":"t","type":"quantitative","scale":{"domain":[0,9000],"nice":false,"zero":false},
"axis":{"title":"Time (sec)","values":[0,2000,4000,6000,8000],"format":"d","grid":true,"labelPadding":10,"titleBaseline":"alphabetic","titleY":36}},
"y":{"field":"f","type":"quantitative","scale":{"domain":[0,2],"nice":false,"zero":false},
"axis":{"title":"Frequency (Hz)","values":[0,0.5,1,1.5,2],"format":"~g","grid":true,"labelPadding":14,"titleFontSize":14,"titleX":-41,"titleY":131.5}},
"color":{"field":"L","type":"quantitative",
"scale":{"domain":[5.7,20,48.6,77.1,105.7,120],"range":["#00008f","#0000ff","#00ffff","#ffff00","#ff0000","#800000"]},
"legend":{"type":"gradient","title":null,"orient":"right","offset":10,"padding":0,"direction":"vertical","gradientLength":263,"gradientThickness":20,"gradientStrokeColor":"#262626","gradientStrokeWidth":1,"values":[20,40,60,80,100],"labelFont":"DejaVu Sans","labelFontSize":14,"labelColor":"#262626","labelOffset":5,"labelOverlap":false}},
"detail":{"field":"L","type":"nominal"}
}},
{"data":{"name":"blob"},
"mark":{"type":"line","clip":true,"strokeWidth":0.8,"stroke":"#2a2acc"},
"encoding":{
"x":{"field":"t","type":"quantitative","axis":{"orient":"top","labels":false,"grid":false,"title":null,"domain":false,"values":[0,2000,4000,6000,8000],"tickSize":-5}},
"y":{"field":"f","type":"quantitative","axis":{"orient":"right","labels":false,"grid":false,"title":null,"domain":false,"values":[0,0.5,1,1.5,2],"tickSize":-5}},
"order":{"field":"i","type":"quantitative"}
}},
{"data":{"name":"corner"},
"mark":{"type":"text","text":"×10","font":"DejaVu Sans","fontSize":11,"color":"#262626","align":"left","baseline":"alphabetic","dx":1,"dy":-3},
"encoding":{"x":{"field":"t","type":"quantitative","axis":null},"y":{"field":"f","type":"quantitative","axis":null}}},
{"data":{"name":"corner"},
"mark":{"type":"text","text":"-3","font":"DejaVu Sans","fontSize":8,"color":"#262626","align":"left","baseline":"alphabetic","dx":24,"dy":-9},
"encoding":{"x":{"field":"t","type":"quantitative","axis":null},"y":{"field":"f","type":"quantitative","axis":null}}}
],
"resolve":{"axis":{"x":"independent","y":"independent"}}
}
